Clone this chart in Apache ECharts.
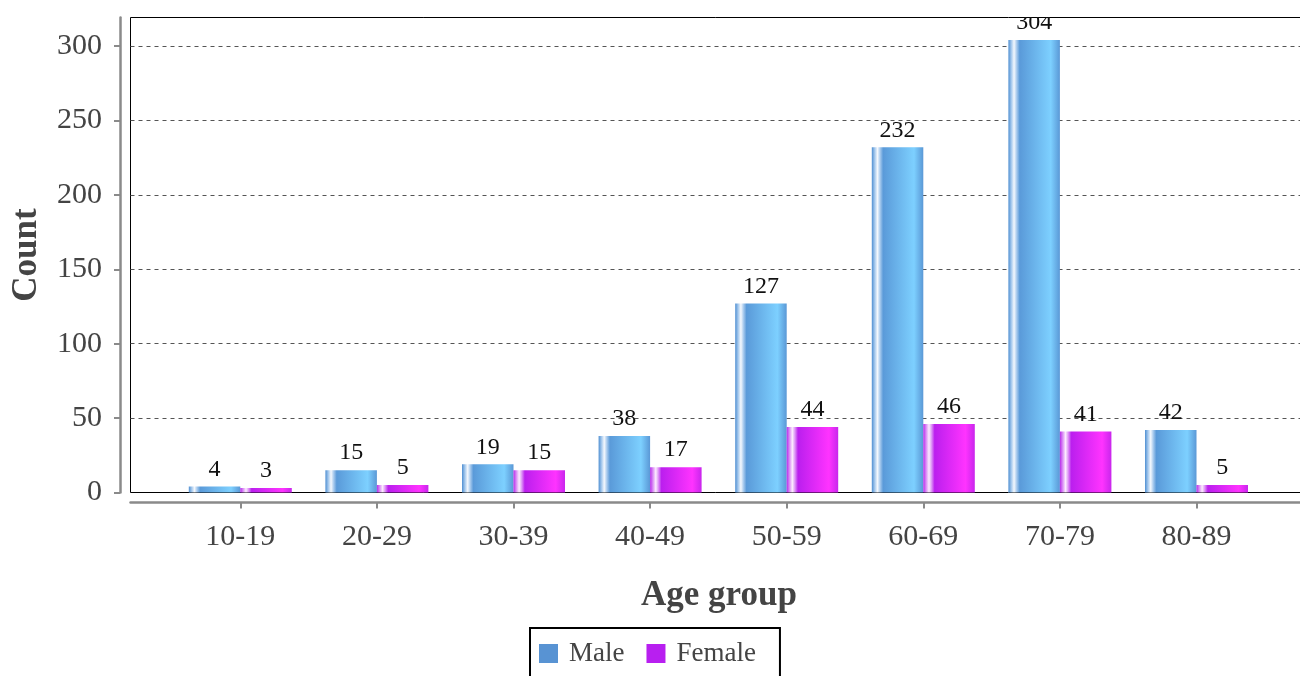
<!DOCTYPE html>
<html>
<head>
<meta charset="utf-8">
<title>Count by age group and sex</title>
<script src="https://cdn.jsdelivr.net/npm/echarts@6/dist/echarts.min.js"></script>
<style>
  html, body { margin: 0; padding: 0; background: #fff; }
  #chart { width: 1300px; height: 676px; }
</style>
</head>
<body>
<div id="chart"></div>
<script>
// Age groups on the category axis
const ageGroups = ['10-19', '20-29', '30-39', '40-49', '50-59', '60-69', '70-79', '80-89'];
// Counts per age group
const maleCounts = [4, 15, 19, 38, 127, 232, 304, 42];
const femaleCounts = [3, 5, 15, 17, 44, 46, 41, 5];
// Value axis ticks
const countTicks = [0, 50, 100, 150, 200, 250, 300];

const FONT = 'Liberation Serif, Times New Roman, serif';
const AXIS_GREY = '#8a8a8a';
const TEXT_GREY = '#444';
const Y_MAX = 319.2;

// Horizontal "glossy" gradient: dark edge, white highlight, base, light, darker edge
function glossy(edge, mid, highlight, base, light, end) {
  return {
    type: 'linear', x: 0, y: 0, x2: 1, y2: 0,
    colorStops: [
      { offset: 0.00, color: edge },
      { offset: 0.06, color: mid },
      { offset: 0.11, color: highlight },
      { offset: 0.16, color: mid },
      { offset: 0.22, color: base },
      { offset: 0.82, color: light },
      { offset: 1.00, color: end }
    ]
  };
}

const maleFill = glossy('#4f8fd2', '#a9cbee', '#f4f8fd', '#5a9ad9', '#7dd0ff', '#5a98d6');
const femaleFill = glossy('#b82aec', '#dd96f6', '#fcecfe', '#bb1fee', '#ff33ff', '#c826ec');

const valueLabel = {
  show: true,
  position: 'top',
  distance: 5,
  fontFamily: FONT,
  fontSize: 24,
  color: '#111'
};

const chart = echarts.init(document.getElementById('chart'));

chart.setOption({
  backgroundColor: '#fff',
  animation: false,
  textStyle: { fontFamily: FONT },
  grid: [
    // plot frame, gridlines and the long x axis line
    { left: 130.5, top: 17.5, width: 1177, height: 475, show: true,
      outerBoundsMode: 'none',
      borderColor: '#000', borderWidth: 1, backgroundColor: 'transparent' },
    // bars, placed with the category margins of the frame
    { left: 172, top: 17.5, width: 1092.8, height: 475, outerBoundsMode: 'none' }
  ],
  xAxis: [
    {
      gridIndex: 0, type: 'value', min: 0, max: 1,
      offset: 10,
      axisLine: { show: true, onZero: false, lineStyle: { color: AXIS_GREY, width: 2.5 } },
      axisTick: { show: false }, axisLabel: { show: false }, splitLine: { show: false },
      name: 'Age group', nameLocation: 'middle', nameGap: 76,
      nameTextStyle: { fontFamily: FONT, fontSize: 35, fontWeight: 'bold', color: TEXT_GREY }
    },
    {
      gridIndex: 1, type: 'category', data: ageGroups,
      offset: 10,
      axisLine: { show: false, onZero: false },
      axisTick: { show: true, alignWithLabel: true, length: 6,
        lineStyle: { color: AXIS_GREY, width: 2 } },
      axisLabel: { fontFamily: FONT, fontSize: 30, color: TEXT_GREY, margin: 20 },
      splitLine: { show: false }
    }
  ],
  yAxis: [
    {
      gridIndex: 0, type: 'value', min: 0, max: Y_MAX, interval: 50,
      axisLine: { show: false, onZero: false }, axisTick: { show: false }, axisLabel: { show: false },
      splitLine: { show: true, showMinLine: false, showMaxLine: false,
        lineStyle: { color: '#555', width: 1, type: [4, 4] } },
      name: 'Count', nameLocation: 'middle', nameGap: 86,
      nameTextStyle: { fontFamily: FONT, fontSize: 35, fontWeight: 'bold', color: TEXT_GREY }
    },
    {
      gridIndex: 1, type: 'value', min: 0, max: Y_MAX, interval: 50,
      offset: 52,
      axisLine: { show: true, onZero: false, lineStyle: { color: AXIS_GREY, width: 2.5 } },
      axisTick: { show: true, length: 6, customValues: countTicks,
        lineStyle: { color: AXIS_GREY, width: 2 } },
      axisLabel: { fontFamily: FONT, fontSize: 30, color: TEXT_GREY, margin: 18,
        customValues: countTicks },
      splitLine: { show: false }
    }
  ],
  legend: {
    left: 530, top: 628,
    orient: 'horizontal',
    icon: 'rect',
    itemWidth: 19, itemHeight: 19, itemGap: 22,
    padding: [12, 24, 16, 9],
    borderColor: '#000', borderWidth: 2,
    textStyle: { fontFamily: FONT, fontSize: 27, color: TEXT_GREY, padding: [0, 0, 0, 6] },
    data: [
      { name: 'Male', itemStyle: { color: '#5893d3' } },
      { name: 'Female', itemStyle: { color: '#b81ff0' } }
    ]
  },
  series: [
    {
      name: 'Male', type: 'bar', xAxisIndex: 1, yAxisIndex: 1,
      data: maleCounts, barWidth: 51.5, barGap: '0%',
      itemStyle: { color: maleFill },
      label: valueLabel
    },
    {
      name: 'Female', type: 'bar', xAxisIndex: 1, yAxisIndex: 1,
      data: femaleCounts, barWidth: 51.5, barGap: '0%',
      itemStyle: { color: femaleFill },
      label: valueLabel
    }
  ],
  // keep value labels inside the plot frame at the top edge
  graphic: [
    { type: 'rect', z: 100, shape: { x: 131, y: 0, width: 1169, height: 17 },
      style: { fill: '#fff' }, silent: true }
  ]
});
</script>
</body>
</html>
